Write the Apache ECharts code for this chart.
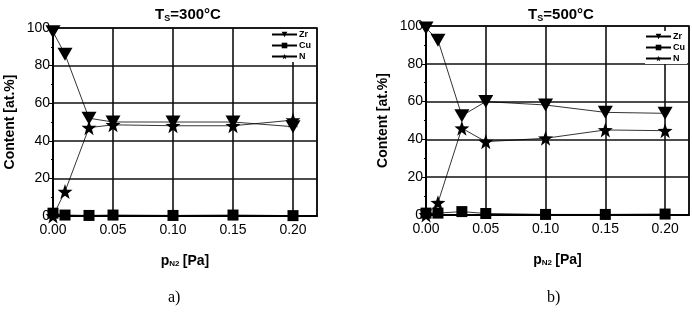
<!DOCTYPE html>
<html><head><meta charset="utf-8">
<script src="https://cdn.jsdelivr.net/npm/echarts@6/dist/echarts.min.js"></script>
<style>html,body{margin:0;padding:0;background:#fff}#c{width:692px;height:330px}</style>
</head><body><div id="c"></div>
<script>
const pressure = [0, 0.01, 0.03, 0.05, 0.10, 0.15, 0.20];
const zr300 = [98, 86, 52, 50, 50, 50, 47.5];
const cu300 = [1.5, 0.5, 0.3, 0.5, 0.3, 0.5, 0.2];
const n300  = [0, 13, 47, 48.5, 48, 48, 51];
const zr500 = [99, 92.5, 52.5, 60, 58.2, 54.3, 53.8];
const cu500 = [1, 1, 1.8, 0.8, 0.3, 0.3, 0.5];
const n500  = [0, 6.5, 45.9, 38.8, 40.6, 45, 44.6];
const xTicks = [0, 0.05, 0.10, 0.15, 0.20];
const yTicks = [0, 20, 40, 60, 80, 100];
const titles = ['300', '500'];
const panelLabels = ['a)', 'b)'];

const star = 'path://M50,0 L73.5,67.6 L145.1,69.1 L88,112.4 L108.8,180.9 L50,140 L-8.8,180.9 L12,112.4 L-45.1,69.1 L26.5,67.6 Z';
const font = 'Liberation Sans, Arial, sans-serif';
const pts = ys => pressure.map((x, i) => [x, ys[i]]);

const grids = [
  {left: 53, top: 28, width: 264, height: 188},
  {left: 426, top: 26, width: 264, height: 189}
];
const gridOpts = grids.map(g => Object.assign({show: true, borderColor: '#000', borderWidth: 1.5, backgroundColor: 'transparent'}, g));

const xAxes = grids.map((g, i) => ({
  type: 'value', gridIndex: i, min: 0, max: 0.22, interval: 0.05,
  axisLine: {show: true, lineStyle: {color: '#000', width: 2}},
  axisTick: {show: false},
  splitLine: {show: true, lineStyle: {color: '#111', width: 1.6}},
  axisLabel: {color: '#000', fontFamily: font, fontSize: 14, margin: 7,
    formatter: v => xTicks.some(t => Math.abs(t - v) < 1e-9) ? v.toFixed(2) : ''},
  name: '{p|p}{s|N2} {p|[Pa]}', nameLocation: 'middle', nameGap: 38,
  nameTextStyle: {rich: {
    p: {fontFamily: font, fontWeight: 'bold', fontSize: 14, color: '#000'},
    s: {fontFamily: font, fontWeight: 'bold', fontSize: 8, color: '#000', verticalAlign: 'bottom', padding: [6, 0, 0, 0]}
  }}
}));
const yAxes = grids.map((g, i) => ({
  type: 'value', gridIndex: i, min: 0, max: 100, interval: 20,
  axisLine: {show: true, lineStyle: {color: '#000', width: 2}},
  axisTick: {show: true, length: 4, lineStyle: {color: '#000', width: 1}},
  minorTick: {show: true, splitNumber: 2, length: 2, lineStyle: {color: '#000'}},
  splitLine: {show: true, lineStyle: {color: '#111', width: 1.6}},
  axisLabel: {color: '#000', fontFamily: font, fontSize: 14, margin: 3,
    formatter: v => yTicks.includes(v) ? String(v) : ''},
  name: 'Content [at.%]', nameLocation: 'middle', nameGap: 36, nameRotate: 90,
  nameTextStyle: {fontFamily: font, fontWeight: 'bold', fontSize: 14, color: '#000'}
}));

function mk(name, data, gi, symbol, size, rot) {
  return {name, type: 'line', xAxisIndex: gi, yAxisIndex: gi, data: pts(data),
    symbol, symbolSize: size, symbolRotate: rot || 0, showAllSymbol: true,
    lineStyle: {color: '#000', width: 0.8}, itemStyle: {color: '#000'}, z: 5, animation: false};
}
const series = [
  mk('Zr', zr300, 0, 'triangle', [15, 13], 180),
  mk('Cu', cu300, 0, 'rect', [11, 11]),
  mk('N', n300, 0, star, [15, 15]),
  mk('Zr', zr500, 1, 'triangle', [15, 13], 180),
  mk('Cu', cu500, 1, 'rect', [11, 11]),
  mk('N', n500, 1, star, [15, 15])
];

const legendCommon = {orient: 'vertical', itemWidth: 25, itemHeight: 7, itemGap: 2,
  textStyle: {fontFamily: font, fontWeight: 'bold', fontSize: 9, color: '#000', padding: [0, 0, 0, -3]},
  data: ['Zr', 'Cu', 'N'], selectedMode: false, backgroundColor: '#fff', padding: [1, 2, 1, 0]};

const chart = echarts.init(document.getElementById('c'), null, {renderer: 'canvas'});
chart.setOption({
  animation: false,
  backgroundColor: '#fff',
  title: titles.map((t, i) => ({
    text: '{t|T}{s|S}{t|=' + t + '°C}',
    left: i === 0 ? 183 : 556, top: 1, textAlign: 'center',
    textStyle: {rich: {
      t: {fontFamily: font, fontWeight: 'bold', fontSize: 15, color: '#000'},
      s: {fontFamily: font, fontWeight: 'bold', fontSize: 9, color: '#000', verticalAlign: 'bottom', padding: [8, 0, 0, 0]}
    }}
  })),
  legend: [
    Object.assign({left: 271, top: 29}, legendCommon),
    Object.assign({left: 645, top: 31}, legendCommon)
  ],
  grid: gridOpts,
  xAxis: xAxes,
  yAxis: yAxes,
  series,
  graphic: panelLabels.map((t, i) => ({
    type: 'text', left: i === 0 ? 168 : 547, top: 290,
    style: {text: t, font: '16px "Liberation Serif", "DejaVu Serif", serif', fill: '#000'}
  }))
});
</script></body></html>
